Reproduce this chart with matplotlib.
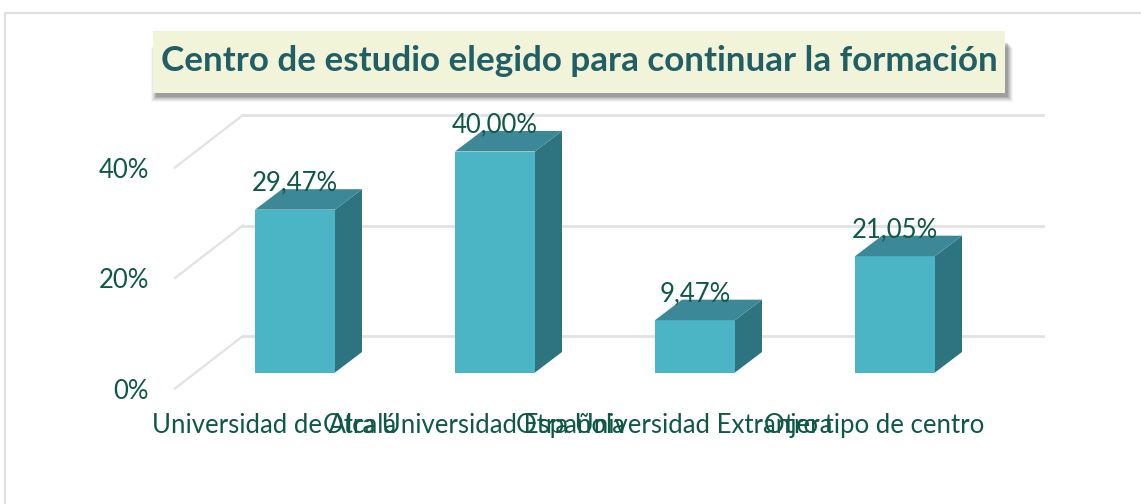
import matplotlib
matplotlib.use('Agg')
import matplotlib.pyplot as plt
from matplotlib.patches import Rectangle

categories = ["Universidad de Alcalá", "Otra Universidad Española",
              "Otra Universidad Extranjera", "Otro tipo de centro"]
values = [29.47, 40.00, 9.47, 21.05]
value_labels = ["29,47%", "40,00%", "9,47%", "21,05%"]
y_ticks = [0, 20, 40]
y_tick_labels = ["0%", "20%", "40%"]
title = "Centro de estudio elegido para continuar la formación"

W, H = 1141, 504
PX_X = 200.0    # pixels per category
PX_Y = 5.525    # pixels per percent
BASE = 372.5    # pixel row of the bar bottoms

TEXT = "#0f5848"
FRONT = "#4bb5c6"
SIDE = "#2e7380"
TOP = "#3d8898"
GRID = "#e2e2e2"

fig = plt.figure(figsize=(W / 100, H / 100), dpi=100)
ax = fig.add_axes([0, 0, 1, 1])
ax.set_xlim(-295 / PX_X, (W - 295) / PX_X)
ax.set_ylim(-(H - BASE) / PX_Y, BASE / PX_Y)
ax.axis('off')


def dx(px):
    return px / PX_X


def dy(px):
    return px / PX_Y


# outer frame, only top and left show
ax.plot([dx(5 - 295), dx(5 - 295), dx(W - 295)],
        [dy(BASE - 510), dy(BASE - 13), dy(BASE - 13)], color="#e0e0e0", lw=1.6, zorder=1)

# back wall lines and the floor/side diagonals
for t in y_ticks:
    y_front = t - dy(16)
    y_back = t + dy(36.5)
    ax.plot([dx(243 - 295), dx(1043 - 295)], [y_back, y_back], color=GRID, lw=2, zorder=1)
    ax.plot([dx(175 - 295), dx(243 - 295)], [y_front, y_back], color=GRID, lw=1.6, zorder=1)

# bars, front face plus side and top for the 3d look
bar_w = 80 / PX_X
depth_x = dx(27)
depth_y = dy(20.5)
ax.bar(range(len(values)), values, width=bar_w, color=FRONT, zorder=3)
for i, v in enumerate(values):
    l = i - bar_w / 2
    r = i + bar_w / 2
    ax.fill([r, r + depth_x, r + depth_x, r], [0, depth_y, v + depth_y, v], color=SIDE, lw=0, zorder=3)
    ax.fill([l, r, r + depth_x, l + depth_x], [v, v, v + depth_y, v + depth_y], color=TOP, lw=0, zorder=3)
    ax.text(i, v + dy(26.5), value_labels[i], color=TEXT, fontsize=18.5, family="Lato",
            ha='center', va='center', zorder=5)

for t, lab in zip(y_ticks, y_tick_labels):
    ax.text(dx(149 - 295), t - dy(19), lab, color=TEXT, fontsize=18.5, family="Lato",
            ha='right', va='center', zorder=5)

for i, c in enumerate(categories):
    ax.text(i - dx(21), -dy(53), c, color=TEXT, fontsize=18.5, family="Lato",
            ha='center', va='center', zorder=5)

# title box with soft shadow, mostly below the box
bx, by, bw, bh = dx(153 - 295), dy(BASE - 93), dx(852), dy(62)
for grow, a in [(5, 0.05), (4, 0.07), (3, 0.09), (2, 0.11), (1, 0.14), (0, 0.18)]:
    ax.add_patch(Rectangle((bx + dx(3 - grow), by - dy(4 + grow)),
                           bw + dx(2 * grow), bh - dy(8),
                           color="#404040", alpha=a, lw=0, zorder=6))
ax.add_patch(Rectangle((bx, by), bw, bh, color="#f2f4da", lw=0, zorder=7))
ax.text(bx + bw / 2, by + bh / 2 + dy(1), title, color="#215f66", fontsize=25.2, family="Lato",
        fontweight='bold', ha='center', va='center', zorder=8)

fig.savefig("out.png", dpi=100)
plt.close()
